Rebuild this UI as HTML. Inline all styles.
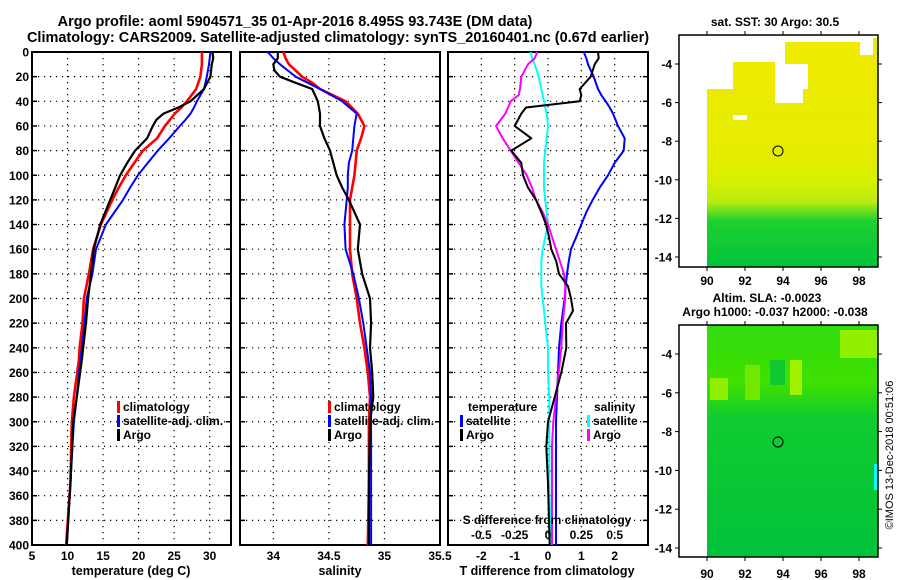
<!DOCTYPE html>
<html><head><meta charset="utf-8">
<style>
html,body{margin:0;padding:0;background:#fff;}
svg{display:block;font-family:"Liberation Sans",sans-serif;font-weight:bold;}
text{fill:#000;}
</style></head>
<body>
<svg id="chart" width="900" height="580" viewBox="0 0 900 580" xmlns="http://www.w3.org/2000/svg">
<g id="titles">
<text x="295" y="26" font-size="14.5" text-anchor="middle">Argo profile: aoml 5904571_35 01-Apr-2016 8.495S 93.743E (DM data)</text>
<text x="338" y="42" font-size="14.5" text-anchor="middle">Climatology: CARS2009. Satellite-adjusted climatology: synTS_20160401.nc (0.67d earlier)</text>
</g>
<g id="maps">
<defs>
<linearGradient id="sstg" x1="0" y1="0" x2="0" y2="1">
<stop offset="0" stop-color="#eeea00"/><stop offset="0.5" stop-color="#e6ec00"/>
<stop offset="0.63" stop-color="#d8f000"/><stop offset="0.72" stop-color="#b8ec10"/>
<stop offset="0.8" stop-color="#20d030"/><stop offset="1" stop-color="#00c43c"/></linearGradient>
<linearGradient id="slag" x1="0" y1="0" x2="0" y2="1">
<stop offset="0" stop-color="#30dc10"/><stop offset="0.25" stop-color="#40e000"/>
<stop offset="0.4" stop-color="#10cc30"/><stop offset="1" stop-color="#00c23a"/></linearGradient>
</defs>
<text x="775" y="26" font-size="12" text-anchor="middle">sat. SST: 30 Argo: 30.5</text>
<g>
<rect x="707" y="35" width="171" height="232" fill="url(#sstg)"/>
<rect x="707" y="35" width="171" height="54" fill="#fff"/>
<rect x="733" y="62" width="42" height="28" fill="#eeea00"/>
<rect x="785" y="42" width="25" height="22" fill="#eeea00"/>
<rect x="808" y="42" width="52" height="48" fill="#eeea00"/>
<rect x="860" y="55" width="18" height="35" fill="#eeea00"/>
<rect x="873" y="38" width="5" height="18" fill="#eeea00"/>
<rect x="775" y="85" width="28" height="18" fill="#fff"/>
<rect x="733" y="115" width="14" height="5" fill="#fff"/>
</g>
<rect x="679" y="35" width="199" height="232" fill="none" stroke="#000" stroke-width="1.5"/>
<circle cx="778" cy="151" r="5" fill="none" stroke="#000" stroke-width="1"/>
<text x="767" y="302" font-size="12" text-anchor="middle">Altim. SLA: -0.0023</text>
<text x="775" y="316" font-size="12" text-anchor="middle">Argo h1000: -0.037 h2000: -0.038</text>
<g>
<rect x="707" y="325" width="171" height="232" fill="url(#slag)"/>
<rect x="710" y="378" width="18" height="22" fill="#90f000"/>
<rect x="745" y="365" width="15" height="35" fill="#70e800"/>
<rect x="790" y="360" width="12" height="35" fill="#a0f000"/>
<rect x="840" y="330" width="38" height="28" fill="#90f000"/>
<rect x="770" y="360" width="15" height="25" fill="#10c830"/>
<rect x="874" y="464" width="4" height="26" fill="#00ffff"/>
</g>
<rect x="679" y="325" width="199" height="232" fill="none" stroke="#000" stroke-width="1.5"/>
<circle cx="778" cy="442" r="5" fill="none" stroke="#000" stroke-width="1"/>
<text transform="translate(893,455) rotate(-90)" font-size="11" font-weight="normal" text-anchor="middle">©IMOS 13-Dec-2018 00:51:06</text>
</g>
<g id="plots"></g>
</svg>
<script>
// ---- data ----
const depthT = [0,5,10,20,30,40,45,50,55,60,70,80,90,100,110,120,140,160,180,200,220,240,250,280,300,350,400];
const tempClim = [28.9,28.9,28.9,28.7,28.1,26.8,26.0,25.1,24.4,23.7,22.6,20.6,19.4,18.2,17.2,16.3,14.7,13.6,13.0,12.3,12.1,11.7,11.6,10.9,10.6,10.4,9.8];
const tempSat = [30.1,30.0,29.9,29.6,29.2,28.2,27.8,27.3,26.6,25.8,24.3,22.7,21.3,19.9,18.8,17.8,15.4,14.0,13.5,12.7,12.4,12.0,11.8,11.3,10.9,10.4,9.9];
const tempArgo = [30.4,30.5,30.3,30.1,29.2,27.3,25.6,23.5,22.5,22.0,21.2,19.5,18.4,17.4,16.7,16.0,14.6,13.7,13.3,12.9,12.6,12.2,12.0,11.3,10.8,10.4,9.9];
const depthS = [0,5,10,15,20,25,30,40,50,60,70,80,90,100,110,120,140,160,180,200,220,240,260,280,300,350,400];
const salClim = [34.09,34.11,34.14,34.2,34.26,34.35,34.42,34.65,34.76,34.82,34.79,34.75,34.74,34.73,34.71,34.69,34.69,34.69,34.71,34.75,34.78,34.82,34.85,34.87,34.86,34.86,34.85];
const salSat = [33.95,34.0,34.06,34.13,34.2,34.31,34.42,34.62,34.75,34.73,34.72,34.71,34.68,34.67,34.67,34.66,34.64,34.65,34.72,34.77,34.81,34.84,34.87,34.88,34.88,34.88,34.88];
const salArgo = [34.04,34.04,34.0,34.01,34.06,34.2,34.35,34.4,34.42,34.42,34.46,34.51,34.54,34.57,34.62,34.68,34.78,34.76,34.80,34.87,34.88,34.87,34.89,34.90,34.87,34.86,34.86];
const depthD = [0,5,10,20,30,35,40,45,50,60,70,80,90,100,110,120,130,140,150,160,170,180,190,200,210,220,240,260,280,300,320,350,400];
const dTSat = [1.07,1.15,1.2,1.37,1.5,1.6,1.73,1.85,1.95,2.1,2.3,2.27,2.0,1.8,1.55,1.34,1.15,1.0,0.85,0.69,0.62,0.57,0.53,0.5,0.45,0.4,0.33,0.3,0.27,0.24,0.24,0.24,0.24];
const dTArgo = [1.5,1.52,1.4,1.28,0.95,1.0,0.95,-0.66,-0.8,-1.0,-0.5,-1.1,-0.8,-0.75,-0.6,-0.36,-0.2,-0.06,0.03,0.1,0.25,0.33,0.6,0.69,0.75,0.54,0.55,0.4,0.2,0.0,-0.05,0.0,0.05];
const dSSat = [-0.13,-0.12,-0.1,-0.07,-0.05,-0.04,-0.03,-0.02,-0.01,0.0,-0.01,-0.02,-0.03,-0.03,-0.03,-0.02,-0.01,0.0,-0.02,-0.04,-0.05,-0.05,-0.05,-0.04,-0.03,-0.02,0.0,0.0,0.01,0.01,0.01,0.01,0.02];
const dSArgo = [-0.08,-0.1,-0.15,-0.2,-0.21,-0.22,-0.28,-0.3,-0.32,-0.39,-0.34,-0.28,-0.22,-0.16,-0.12,-0.09,-0.04,0.0,0.03,0.06,0.09,0.12,0.13,0.13,0.12,0.11,0.1,0.08,0.06,0.04,0.03,0.03,0.03];
const depthTicks = [0,20,40,60,80,100,120,140,160,180,200,220,240,260,280,300,320,340,360,380,400];
const tempTicks = [5,10,15,20,25,30];
const salTicks = [34,34.5,35,35.5];
const salTickLabels = ["34","34.5","35","35.5"];
const dTTicks = [-2,-1,0,1,2];
const dSTicks = [-0.5,-0.25,0,0.25,0.5];
const dSTickLabels = ["-0.5","-0.25","0","0.25","0.5"];

const NS = "http://www.w3.org/2000/svg";
const root = document.getElementById('plots');
function mk(tag, attrs, parent){
  const e = document.createElementNS(NS, tag);
  for (const k in attrs) e.setAttribute(k, attrs[k]);
  (parent||root).appendChild(e); return e;
}
const Y0 = 52, Y1 = 545;
function yD(d){ return Y0 + (d/400)*(Y1-Y0); }
function lin(d0,d1,p0,p1){ return v => p0 + (v-d0)/(d1-d0)*(p1-p0); }

const panels = [
  {name:'temperature-panel', x0:32, x1:231, sx:lin(5,33,32,231)},
  {name:'salinity-panel', x0:240, x1:440, sx:lin(33.7,35.5,240,440)},
  {name:'difference-panel', x0:448, x1:648, sx:lin(-3,3,448,648)}
];
const sxS = lin(-0.75,0.75,448,648);

function drawLine(g, xs, ds, fx, color, name, w){
  let pts = xs.map((v,i)=> fx(v).toFixed(1)+','+yD(ds[i]).toFixed(1)).join(' ');
  const p = mk('polyline', {points:pts, fill:'none', stroke:color, 'stroke-width':w||2.2, 'stroke-linejoin':'round'}, g);
  
  
}

panels.forEach((P,pi)=>{
  const g = mk('g', {});
  
  
  depthTicks.forEach(d=>{
    if(d>0 && d<400){
      const l = mk('line',{x1:P.x0,x2:P.x1,y1:yD(d),y2:yD(d),stroke:'#000','stroke-width':1.2,'stroke-dasharray':'1.2,4.8'},g);
      
      
    }
    mk('line',{x1:P.x0,x2:P.x0+5,y1:yD(d),y2:yD(d),stroke:'#000','stroke-width':1.5},g);
    mk('line',{x1:P.x1-5,x2:P.x1,y1:yD(d),y2:yD(d),stroke:'#000','stroke-width':1.5},g);
    if(pi===0){
      const t = mk('text',{x:P.x0-3,y:yD(d)+4.5,'font-size':12,'text-anchor':'end'},g);
      t.textContent = d;
      
      
    }
  });
  const xt = pi===0?tempTicks:(pi===1?salTicks:dTTicks);
  xt.forEach((v,i)=>{
    const x = P.sx(v);
    if(x>P.x0+1 && x<P.x1-1){
      const l = mk('line',{x1:x,x2:x,y1:Y0,y2:Y1,stroke:'#000','stroke-width':1.2,'stroke-dasharray':'1.2,4.8'},g);
      
      
    }
    const t = mk('text',{x:x,y:560,'font-size':12,'text-anchor':'middle'},g);
    t.textContent = pi===1?salTickLabels[i]:String(v);
    
    
  });
  const fr = mk('rect',{x:P.x0,y:Y0,width:P.x1-P.x0,height:Y1-Y0,fill:'none',stroke:'#000','stroke-width':2},g);
  
  

  if(pi===0){
    drawLine(g,tempClim,depthT,P.sx,'#ff0000','temperature-climatology-line',2.6);
    drawLine(g,tempSat,depthT,P.sx,'#0000ff','temperature-satellite-line',2);
    drawLine(g,tempArgo,depthT,P.sx,'#000000','temperature-argo-line',2.2);
  } else if(pi===1){
    drawLine(g,salClim,depthS,P.sx,'#ff0000','salinity-climatology-line',2.6);
    drawLine(g,salSat,depthS,P.sx,'#0000ff','salinity-satellite-line',2);
    drawLine(g,salArgo,depthS,P.sx,'#000000','salinity-argo-line',2.2);
  } else {
    drawLine(g,dTSat,depthD,P.sx,'#0000ff','temperature-satellite-difference-line',2);
    drawLine(g,dSSat,depthD,sxS,'#00ffff','salinity-satellite-difference-line',2);
    drawLine(g,dSArgo,depthD,sxS,'#ff00ff','salinity-argo-difference-line',2);
    drawLine(g,dTArgo,depthD,P.sx,'#000000','temperature-argo-difference-line',2);
  }

  function legItem(x,y,color,label){
    const lg = mk('g',{},g);
    
    
    if(color) mk('rect',{x:x,y:y-10,width:3,height:12,fill:color},lg);
    const t = mk('text',{x:x+6,y:y,'font-size':12},lg);
    t.textContent = label;
  }
  if(pi<2){
    const lx = pi===0?117:328;
    legItem(lx,411,'#ff0000','climatology');
    legItem(lx,425,'#0000ff','satellite-adj. clim.');
    legItem(lx,439,'#000000','Argo');
  } else {
    const ttl = mk('text',{x:468,y:411,'font-size':12},g); ttl.textContent='temperature';
    const stl = mk('text',{x:594,y:411,'font-size':12},g); stl.textContent='salinity';
    legItem(460,425,'#0000ff','satellite');
    legItem(460,439,'#000000','Argo');
    legItem(587,425,'#00ffff','satellite');
    legItem(587,439,'#ff00ff','Argo');
    const sl = mk('text',{x:547,y:524,'font-size':12,'text-anchor':'middle'},g);
    sl.textContent='S difference from climatology';
    
    
    dSTicks.forEach((v,i)=>{
      const t = mk('text',{x:sxS(v),y:539,'font-size':12,'text-anchor':'middle'},g);
      t.textContent = dSTickLabels[i];
      
      
    });
  }
});
const xlabels = [['temperature (deg C)',131],['salinity',340],['T difference from climatology',547]];
xlabels.forEach(a=>{
  const t = mk('text',{x:a[1],y:575,'font-size':12.5,'text-anchor':'middle'});
  t.textContent = a[0];
  
  
});

const lonTicks = [90,92,94,96,98];
const latTicks = [-4,-6,-8,-10,-12,-14];
const lonX = lin(90,98,707,859);
const maps = [{y0:35,y1:267,latY:lin(-4,-14,64,257),lab:285},{y0:325,y1:557,latY:lin(-4,-14,354,548),lab:578}];
maps.forEach(M=>{
  const g = mk('g',{});
  
  
  lonTicks.forEach(v=>{
    const x = lonX(v);
    mk('line',{x1:x,x2:x,y1:M.y0-4,y2:M.y0,stroke:'#000','stroke-width':1},g);
    mk('line',{x1:x,x2:x,y1:M.y1,y2:M.y1+4,stroke:'#000','stroke-width':1},g);
    const t = mk('text',{x:x,y:M.lab,'font-size':12,'text-anchor':'middle'},g);
    t.textContent = v;
    
    
  });
  latTicks.forEach(v=>{
    const y = M.latY(v);
    mk('line',{x1:675,x2:679,y1:y,y2:y,stroke:'#000','stroke-width':1},g);
    mk('line',{x1:878,x2:882,y1:y,y2:y,stroke:'#000','stroke-width':1},g);
    const t = mk('text',{x:672,y:y+4.5,'font-size':12,'text-anchor':'end'},g);
    t.textContent = v;
    
    
  });
});
</script>
</body></html>
